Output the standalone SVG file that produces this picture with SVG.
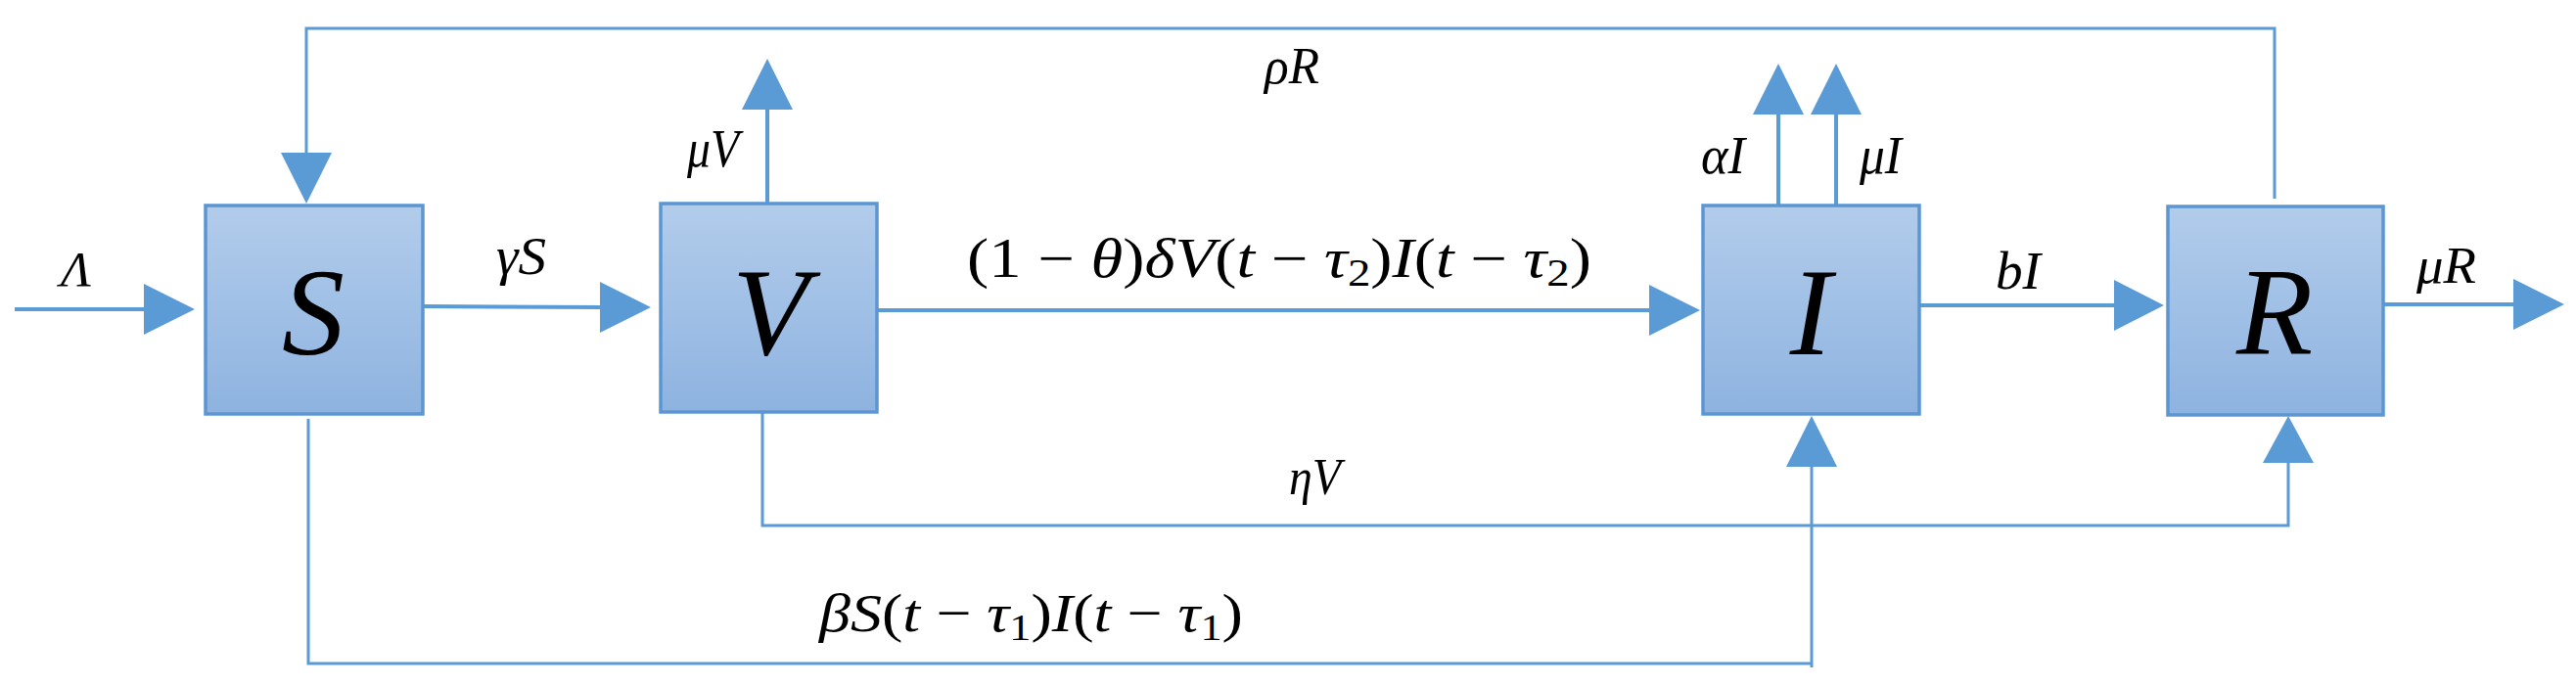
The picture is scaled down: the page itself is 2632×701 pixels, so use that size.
<svg xmlns="http://www.w3.org/2000/svg" width="2632" height="701" viewBox="0 0 2632 701">
  <defs>
    <linearGradient id="boxfill" x1="0" y1="0" x2="0" y2="1">
      <stop offset="0" stop-color="#b2cceb"/>
      <stop offset="1" stop-color="#8eb3e0"/>
    </linearGradient>
  </defs>
  <style>
    .box { fill: url(#boxfill); stroke: #5b96d2; stroke-width: 3.5; }
    .big { font-family: "Liberation Serif", "DejaVu Serif", serif; font-style: italic; font-size: 128px; fill: #000; text-anchor: middle; }
    .m { font-family: "Liberation Serif", "DejaVu Serif", serif; fill: #000; }
    .i { font-style: italic; }
    .ln { fill: none; stroke: #5b9bd5; stroke-width: 4; }
    .thin { fill: none; stroke: #5b9bd5; stroke-width: 3; }
    .hd { fill: #5b9bd5; stroke: none; }
  </style>

  <g id="connectors">
    <!-- Lambda inflow -->
    <line class="ln" x1="15" y1="316" x2="150" y2="316"/>
    <polygon class="hd" points="147,290 199,316 147,342"/>
    <!-- gamma S -->
    <line class="ln" x1="433" y1="313" x2="616" y2="314"/>
    <polygon class="hd" points="613,288 665,314 613,340"/>
    <!-- V to I -->
    <line class="ln" x1="897" y1="317" x2="1688" y2="317"/>
    <polygon class="hd" points="1685,291 1737,317 1685,343"/>
    <!-- bI -->
    <line class="ln" x1="1962" y1="312" x2="2163" y2="312"/>
    <polygon class="hd" points="2160,286 2211,312 2160,338"/>
    <!-- mu R -->
    <line class="ln" x1="2436" y1="311" x2="2571" y2="311"/>
    <polygon class="hd" points="2568,285 2620,311 2568,337"/>
    <!-- mu V -->
    <line class="ln" x1="784" y1="207" x2="784" y2="109"/>
    <polygon class="hd" points="758,112 784,60 810,112"/>
    <!-- alpha I -->
    <line class="ln" x1="1817" y1="209" x2="1817" y2="114"/>
    <polygon class="hd" points="1791,117 1817,65 1843,117"/>
    <!-- mu I -->
    <line class="ln" x1="1876" y1="209" x2="1876" y2="114"/>
    <polygon class="hd" points="1850,117 1876,65 1902,117"/>
    <!-- rho R feedback -->
    <polyline class="thin" points="2324,203 2324,29 313,29 313,159"/>
    <polygon class="hd" points="287,156 313,208 339,156"/>
    <!-- eta V -->
    <polyline class="thin" points="779,422 779,537 2338,537 2338,470"/>
    <polygon class="hd" points="2312,473 2338,425 2364,473"/>
    <!-- beta S I -->
    <polyline class="thin" points="315,428 315,678 1851,678"/>
    <line class="thin" x1="1851" y1="682" x2="1851" y2="474"/>
    <polygon class="hd" points="1825,477 1851,425 1877,477"/>
  </g>

  <g id="node-S">
    <rect class="box" x="210" y="210" width="222" height="213"/>
    <text class="big" x="320" y="362">S</text>
  </g>
  <g id="node-V">
    <rect class="box" x="675" y="208" width="221" height="213"/>
    <text class="big" x="787" y="362">V</text>
  </g>
  <g id="node-I">
    <rect class="box" x="1740" y="210" width="221" height="213"/>
    <text class="big" x="1850" y="362">I</text>
  </g>
  <g id="node-R">
    <rect class="box" x="2215" y="211" width="220" height="213"/>
    <text class="big" x="2324" y="362">R</text>
  </g>

  <g id="labels">
    <text class="m i" x="62" y="292" font-size="50" textLength="31" lengthAdjust="spacingAndGlyphs">Λ</text>
    <text class="m i" x="507" y="280" font-size="54" textLength="51" lengthAdjust="spacingAndGlyphs">γS</text>
    <text class="m i" x="702" y="170" font-size="55" textLength="53" lengthAdjust="spacingAndGlyphs">μV</text>
    <text class="m" x="988" y="283" font-size="57" textLength="638" lengthAdjust="spacingAndGlyphs">(1 − <tspan class="i">θ</tspan>)<tspan class="i">δV</tspan>(<tspan class="i">t</tspan> − <tspan class="i">τ</tspan><tspan font-size="40" dy="9">2</tspan><tspan dy="-9">)</tspan><tspan class="i">I</tspan>(<tspan class="i">t</tspan> − <tspan class="i">τ</tspan><tspan font-size="40" dy="9">2</tspan><tspan dy="-9">)</tspan></text>
    <text class="m i" x="1292" y="85" font-size="53" textLength="56" lengthAdjust="spacingAndGlyphs">ρR</text>
    <text class="m i" x="1738" y="177" font-size="55" textLength="45" lengthAdjust="spacingAndGlyphs">αI</text>
    <text class="m i" x="1900" y="177" font-size="55" textLength="43" lengthAdjust="spacingAndGlyphs">μI</text>
    <text class="m i" x="2039" y="295" font-size="55" textLength="46" lengthAdjust="spacingAndGlyphs">bI</text>
    <text class="m i" x="2469" y="289" font-size="52" textLength="61" lengthAdjust="spacingAndGlyphs">μR</text>
    <text class="m i" x="1317" y="505" font-size="53" textLength="53" lengthAdjust="spacingAndGlyphs">ηV</text>
    <text class="m" x="837" y="645" font-size="55" textLength="433" lengthAdjust="spacingAndGlyphs"><tspan class="i">βS</tspan>(<tspan class="i">t</tspan> − <tspan class="i">τ</tspan><tspan font-size="38" dy="9">1</tspan><tspan dy="-9">)</tspan><tspan class="i">I</tspan>(<tspan class="i">t</tspan> − <tspan class="i">τ</tspan><tspan font-size="38" dy="9">1</tspan><tspan dy="-9">)</tspan></text>
  </g>
</svg>
